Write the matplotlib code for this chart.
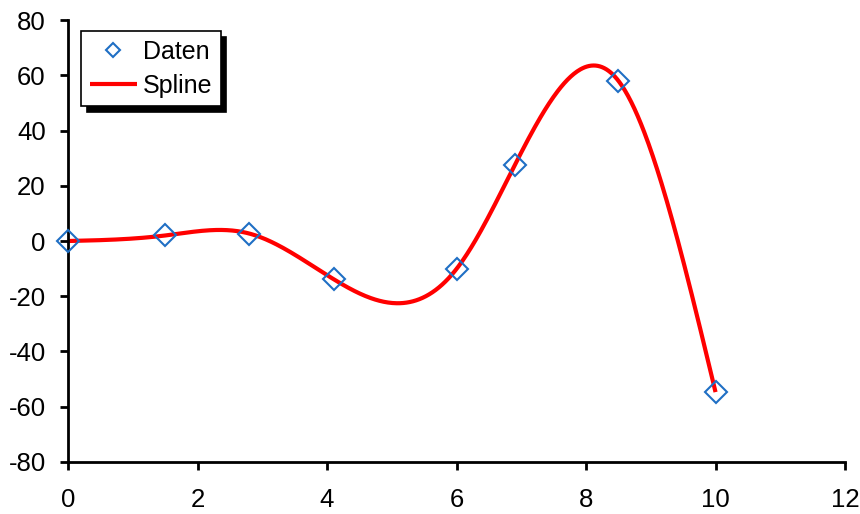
import numpy as np
import matplotlib
matplotlib.use("Agg")
import matplotlib.pyplot as plt

plt.rcParams['font.family'] = ['Liberation Sans', 'DejaVu Sans']

x_data = [0.0, 1.5, 2.8, 4.1, 6.0, 6.9, 8.5, 10.0]
y_data = [0.0, 2.0, 2.7, -13.8, -10.1, 27.5, 58.0, -54.7]
x_ticks = [0, 2, 4, 6, 8, 10, 12]
y_ticks = [-80, -60, -40, -20, 0, 20, 40, 60, 80]


def natural_spline(xs, ys, xq):
    xs = np.asarray(xs, float); ys = np.asarray(ys, float)
    n = len(xs)
    h = np.diff(xs)
    A = np.zeros((n, n)); b = np.zeros(n)
    A[0, 0] = 1; A[-1, -1] = 1
    for i in range(1, n - 1):
        A[i, i - 1] = h[i - 1]
        A[i, i] = 2 * (h[i - 1] + h[i])
        A[i, i + 1] = h[i]
        b[i] = 6 * ((ys[i + 1] - ys[i]) / h[i] - (ys[i] - ys[i - 1]) / h[i - 1])
    M = np.linalg.solve(A, b)
    idx = np.clip(np.searchsorted(xs, xq) - 1, 0, n - 2)
    x0 = xs[idx]; x1 = xs[idx + 1]; hh = x1 - x0
    t0 = x1 - xq; t1 = xq - x0
    return (M[idx] * t0**3 / (6 * hh) + M[idx + 1] * t1**3 / (6 * hh)
            + (ys[idx] / hh - M[idx] * hh / 6) * t0
            + (ys[idx + 1] / hh - M[idx + 1] * hh / 6) * t1)


xs_fine = np.linspace(x_data[0], x_data[-1], 600)
ys_fine = natural_spline(x_data, y_data, xs_fine)

fig = plt.figure(figsize=(8.6, 5.14), dpi=100)
ax = fig.add_axes([0.0791, 0.1012, 0.9035, 0.8598])

ax.plot(xs_fine, ys_fine, color='#ff0000', lw=3, label='Spline', zorder=2, solid_capstyle='butt')
ax.plot(x_data, y_data, linestyle='none', marker='D', markersize=11, markerfacecolor='none',
        markeredgecolor='#1f6fc4', markeredgewidth=1.5, label='Daten', zorder=3, clip_on=False)

ax.set_xlim(0, 12)
ax.set_ylim(-80, 80)
ax.set_xticks(x_ticks)
ax.set_yticks(y_ticks)
ax.set_xticklabels([str(t) for t in x_ticks])
ax.set_yticklabels([str(t) for t in y_ticks])
for s in ['top', 'right']:
    ax.spines[s].set_visible(False)
for s in ['left', 'bottom']:
    ax.spines[s].set_linewidth(2)
ax.tick_params(direction='out', length=6, width=2, labelsize=18.5)
ax.tick_params(axis='y', pad=10)
ax.tick_params(axis='x', pad=13)

handles, labels = ax.get_legend_handles_labels()
leg = ax.legend(handles[::-1], labels[::-1], loc='upper left', bbox_to_anchor=(0.0167, 0.975),
                fontsize=18, frameon=True, fancybox=False,
                shadow={'color': 'black', 'alpha': 1, 'ox': 4, 'oy': -4},
                borderpad=0.34, handlelength=1.88, labelspacing=0.4, handletextpad=0.24,
                borderaxespad=0)
leg.get_frame().set_edgecolor('black')
leg.get_frame().set_linewidth(1.2)
leg.legend_handles[0].set_markersize(7)

fig.savefig('out.png', dpi=100)
